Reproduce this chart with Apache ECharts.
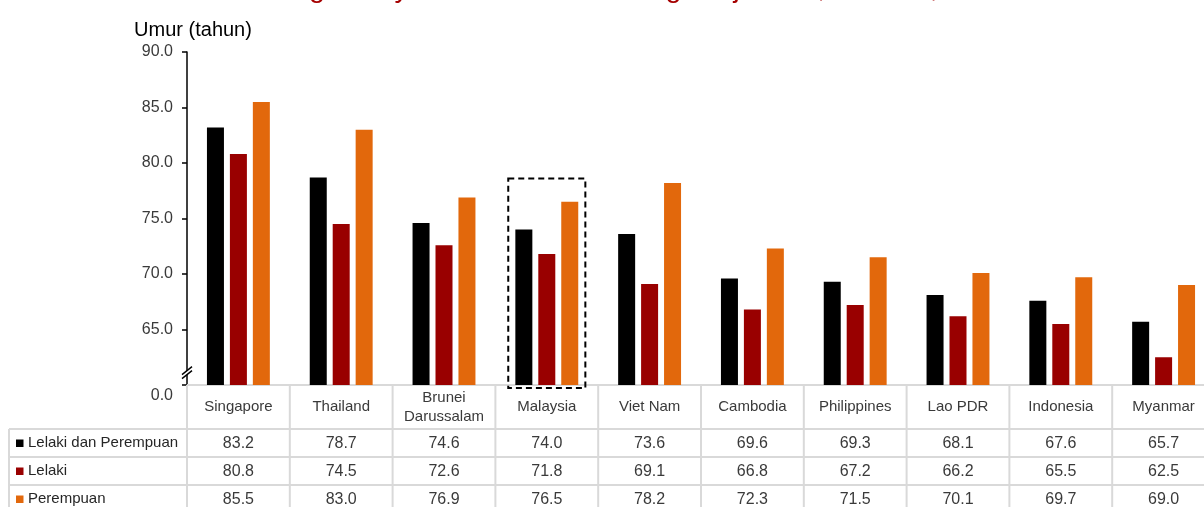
<!DOCTYPE html>
<html>
<head>
<meta charset="utf-8">
<script src="https://cdn.jsdelivr.net/npm/echarts@6/dist/echarts.min.js"></script>
<style>
  html, body { margin: 0; padding: 0; background: #fff; }
  #chart-container { width: 1204px; height: 507px; }
</style>
</head>
<body>
<div id="chart-container"></div>
<script>
// data
const categories = ['Singapore', 'Thailand', 'Brunei\nDarussalam', 'Malaysia', 'Viet Nam',
  'Cambodia', 'Philippines', 'Lao PDR', 'Indonesia', 'Myanmar'];
const seriesNames = ['Lelaki dan Perempuan', 'Lelaki', 'Perempuan'];
const totalValues = [83.2, 78.7, 74.6, 74.0, 73.6, 69.6, 69.3, 68.1, 67.6, 65.7];
const maleValues = [80.8, 74.5, 72.6, 71.8, 69.1, 66.8, 67.2, 66.2, 65.5, 62.5];
const femaleValues = [85.5, 83.0, 76.9, 76.5, 78.2, 72.3, 71.5, 70.1, 69.7, 69.0];
const yMin = 60;   // axis break: bottom of axis is labelled 0.0
const yMax = 90;
const yStep = 5;
const highlightIndex = 3; // Malaysia
const highlightTop = 78.6;

const colors = ['#000000', '#990000', '#e2680c'];
const seriesValues = [totalValues, maleValues, femaleValues];
const font = '"Liberation Sans", Arial, sans-serif';
const textColor = '#3a3a3a';
const lineColor = '#d9d9d9';

var chartDom = document.getElementById('chart-container');
var myChart = echarts.init(chartDom);

var option = {
  animation: false,
  textStyle: { fontFamily: font },
  // plot runs a little past the right edge of the window, like the original
  grid: { left: 187, width: 1028, top: 52, bottom: 122, containLabel: false, outerBoundsMode: 'none' },
  xAxis: {
    type: 'category',
    data: categories,
    axisLine: { lineStyle: { color: lineColor, width: 2 } },
    axisTick: { show: false },
    axisLabel: {
      interval: 0, margin: 22, verticalAlign: 'middle',
      fontSize: 15, lineHeight: 19, color: textColor, fontFamily: font
    }
  },
  yAxis: {
    type: 'value',
    min: yMin, max: yMax, interval: yStep,
    splitLine: { show: false },
    axisLine: { show: true, lineStyle: { color: '#000', width: 1.5 } },
    axisTick: { show: true, length: 5, lineStyle: { color: '#000', width: 1.5 } },
    axisLabel: {
      margin: 14, fontSize: 16, color: textColor, fontFamily: font,
      formatter: function (v) {
        return v === yMin ? '{z|0.0}' : v.toFixed(1);
      },
      rich: { z: { padding: [21, 0, 0, 0], fontSize: 16, color: textColor, fontFamily: font } }
    }
  },
  series: seriesNames.map(function (name, i) {
    return {
      name: name,
      type: 'bar',
      data: seriesValues[i],
      barWidth: 17,
      barGap: '35%',
      itemStyle: { color: colors[i] }
    };
  })
};
myChart.setOption(option);

// table, break mark and highlight box, positioned from the axes
const pt = (i, v) => myChart.convertToPixel({ gridIndex: 0 }, [i, v]);
const colW = pt(1, yMin)[0] - pt(0, yMin)[0];
const x0 = pt(0, yMin)[0] - colW / 2;
const yBase = pt(0, yMin)[1];
const headerH = 44;
const rowH = 28;
const legendLeft = 9;
const g = [];

const line = (x1, y1, x2, y2) => ({
  type: 'line', z: 1, silent: true,
  shape: { x1: x1, y1: y1, x2: x2, y2: y2 },
  style: { stroke: lineColor, lineWidth: 2 }
});

for (let k = 0; k <= categories.length; k++) {
  const x = x0 + k * colW;
  g.push(line(x, yBase, x, 507));
}
const rowTop = yBase + headerH;
for (let r = 0; r <= seriesNames.length; r++) {
  const y = rowTop + r * rowH;
  g.push(line(legendLeft, y, 1204, y));
}
g.push(line(legendLeft, rowTop, legendLeft, 507));

seriesNames.forEach(function (name, r) {
  const cy = rowTop + r * rowH + rowH / 2;
  g.push({ type: 'rect', z: 2, shape: { x: legendLeft + 7, y: cy - 3.5, width: 7.5, height: 7.5 },
    style: { fill: colors[r] } });
  g.push({ type: 'text', z: 2, x: legendLeft + 19, y: cy,
    style: { text: name, font: '15px ' + font, fill: '#262626', verticalAlign: 'middle' } });
  seriesValues[r].forEach(function (v, i) {
    g.push({ type: 'text', z: 2, x: x0 + (i + 0.5) * colW, y: cy + 1,
      style: { text: v.toFixed(1), font: '16px ' + font, fill: textColor,
        align: 'center', verticalAlign: 'middle' } });
  });
});

// axis break "//"
const ax = pt(0, yMin)[0] - colW / 2;
const by = pt(0, yMin + 1.3)[1];
g.push({ type: 'polygon', z: 5, shape: { points: [[ax - 5, by + 4], [ax + 5, by - 4], [ax + 5, by], [ax - 5, by + 8]] },
  style: { fill: '#fff' } });
g.push({ type: 'line', z: 6, shape: { x1: ax - 5, y1: by + 4, x2: ax + 5, y2: by - 4 },
  style: { stroke: '#000', lineWidth: 1.5 } });
g.push({ type: 'line', z: 6, shape: { x1: ax - 5, y1: by + 8, x2: ax + 5, y2: by },
  style: { stroke: '#000', lineWidth: 1.5 } });

// dashed box round Malaysia
const hc = pt(highlightIndex, highlightTop);
const boxW = colW * 0.75;
g.push({ type: 'rect', z: 10,
  shape: { x: hc[0] - boxW / 2, y: hc[1], width: boxW, height: yBase + 3 - hc[1] },
  style: { fill: null, stroke: '#000', lineWidth: 2, lineDash: [6, 4] } });

// axis name and (cut-off) title
g.push({ type: 'text', z: 3, x: 193, y: 30,
  style: { text: 'Umur (tahun)', font: '20px ' + font, fill: '#000', align: 'center', verticalAlign: 'middle' } });
g.push({ type: 'text', z: 3, x: 263, y: -11,
  style: { text: 'Jangka hayat semasa lahir mengikut jantina, ASEAN, 2022', font: '28.5px ' + font,
    fill: '#a50000', verticalAlign: 'middle' } });

myChart.setOption({ graphic: g });
</script>
</body>
</html>
